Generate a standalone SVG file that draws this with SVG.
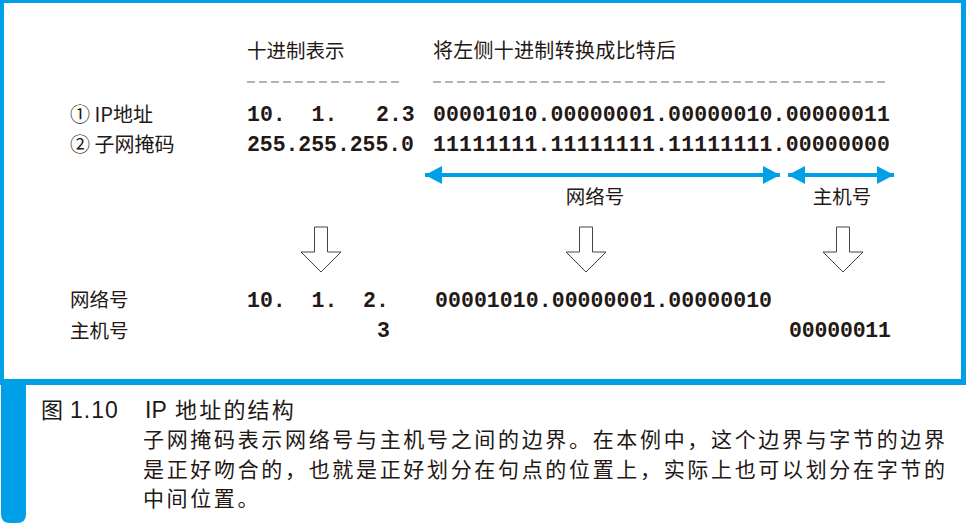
<svg xmlns="http://www.w3.org/2000/svg" width="967" height="528" viewBox="0 0 967 528">
<style>
.cjk{font-family:"Noto Sans CJK SC","Noto Sans",sans-serif;fill:#231815}
.lat{font-family:"Liberation Sans",Arial,sans-serif;fill:#231815}
.mono{font-family:"Liberation Mono","Courier New",monospace;font-weight:bold;font-size:21.5px;fill:#231815}
.dash{stroke:#9a9a9a;stroke-width:1.3;stroke-dasharray:8 4;fill:none}
.blue{fill:#00a0e9}
.hollow{fill:#fff;stroke:#444;stroke-width:1}
.barrow{stroke:#00a0e9;stroke-width:4;fill:none}
</style>
<defs>
<marker id="ah" markerUnits="userSpaceOnUse" markerWidth="18" markerHeight="20" refX="17" refY="9" orient="auto-start-reverse">
<path d="M0,0 L17,9 L0,18 Z" fill="#00a0e9"/>
</marker>
</defs>
<rect width="967" height="528" fill="#fff"/>
<g id="frame">
<rect class="blue" x="0" y="0" width="966" height="3"/>
<rect class="blue" x="0" y="0" width="4" height="385"/>
<rect class="blue" x="961" y="0" width="5" height="385"/>
<rect class="blue" x="0" y="379" width="966" height="6"/>
<path class="blue" d="M1 379 H26 V514 Q26 523 17 523 H10 Q1 523 1 514 Z"/>
</g>
<g id="header">
<text class="cjk" x="247" y="58" font-size="19.5">十进制表示</text>
<text class="cjk" x="433" y="58" font-size="20" textLength="243" lengthAdjust="spacing">将左侧十进制转换成比特后</text>
<line class="dash" x1="247" y1="82" x2="399" y2="82"/>
<line class="dash" x1="433" y1="82" x2="885" y2="82"/>
</g>
<g id="row-ip">
<text class="cjk" x="70" y="122" font-size="20">① IP地址</text>
<text class="mono" x="247" y="121" xml:space="preserve">10.  1.   2.3</text>
<text class="mono" x="433" y="121" textLength="457" lengthAdjust="spacing">00001010.00000001.00000010.00000011</text>
</g>
<g id="row-mask">
<text class="cjk" x="70" y="152" font-size="20">② 子网掩码</text>
<text class="mono" x="247" y="151" textLength="167" lengthAdjust="spacing">255.255.255.0</text>
<text class="mono" x="433" y="151" textLength="457" lengthAdjust="spacing">11111111.11111111.11111111.00000000</text>
</g>
<g id="connectors">
<line class="barrow" x1="425" y1="175" x2="780" y2="175" marker-start="url(#ah)" marker-end="url(#ah)"/>
<line class="barrow" x1="788" y1="175" x2="894" y2="175" marker-start="url(#ah)" marker-end="url(#ah)"/>
<path class="hollow" d="M314.5 227 H327.5 V252 H341 L321 272 L301 252 H314.5 Z"/>
<path class="hollow" d="M579.5 227 H592.5 V252 H606 L586 272 L566 252 H579.5 Z"/>
<path class="hollow" d="M836.5 227 H849.5 V252 H863 L843 272 L823 252 H836.5 Z"/>
</g>
<g id="range-labels">
<text class="cjk" x="595" y="204" font-size="19.5" text-anchor="middle">网络号</text>
<text class="cjk" x="842" y="204" font-size="19.5" text-anchor="middle">主机号</text>
</g>
<g id="row-network">
<text class="cjk" x="70" y="307" font-size="19.5">网络号</text>
<text class="mono" x="247" y="307" xml:space="preserve">10.  1.  2.</text>
<text class="mono" x="435" y="307" textLength="337" lengthAdjust="spacing">00001010.00000001.00000010</text>
</g>
<g id="row-host">
<text class="cjk" x="70" y="338" font-size="19.5">主机号</text>
<text class="mono" x="377" y="337">3</text>
<text class="mono" x="789" y="337" textLength="102" lengthAdjust="spacing">00000011</text>
</g>
<g id="caption">
<text class="cjk" x="41" y="418" font-size="22">图</text>
<text class="lat" x="70" y="418" font-size="23" letter-spacing="1">1.10</text>
<text class="lat" x="145" y="418" font-size="23">IP</text>
<text class="cjk" x="175" y="418" font-size="22" letter-spacing="2.2">地址的结构</text>
<text class="cjk" x="143" y="447" font-size="21" textLength="802" lengthAdjust="spacing">子网掩码表示网络号与主机号之间的边界。在本例中，这个边界与字节的边界</text>
<text class="cjk" x="143" y="477" font-size="21" textLength="802" lengthAdjust="spacing">是正好吻合的，也就是正好划分在句点的位置上，实际上也可以划分在字节的</text>
<text class="cjk" x="143" y="506" font-size="21" letter-spacing="2.6">中间位置。</text>
</g>
</svg>
